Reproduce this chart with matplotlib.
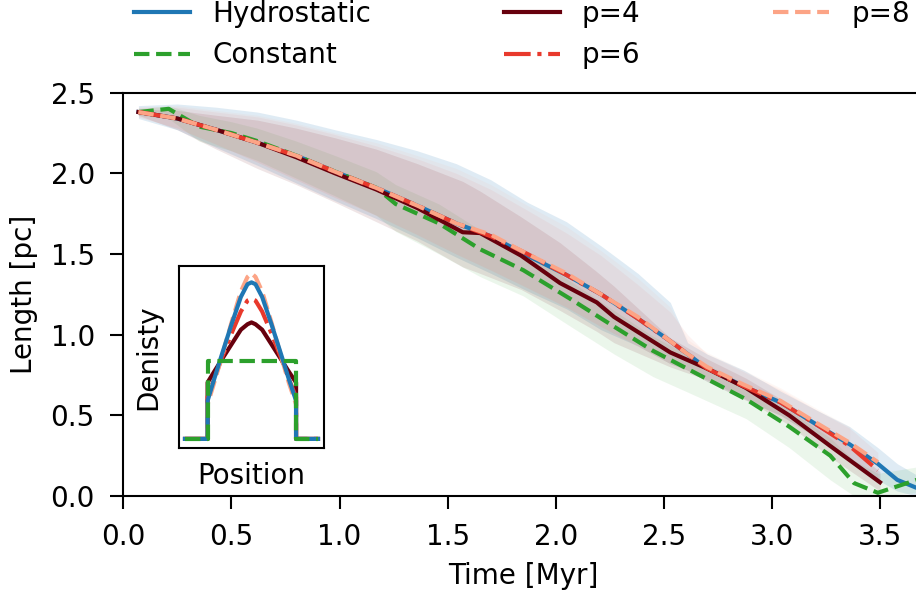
import matplotlib
matplotlib.use("Agg")
import matplotlib.pyplot as plt

# ---- main curves: filament length vs time ----
t_hyd = [0.07, 0.25, 0.43, 0.62, 0.80, 0.98, 1.17, 1.36, 1.54, 1.70, 1.87, 2.05, 2.21, 2.38, 2.53, 2.61,
         2.70, 2.87, 3.04, 3.21, 3.36, 3.49, 3.58, 3.67, 3.75]
L_hyd = [2.38, 2.34, 2.27, 2.19, 2.11, 2.01, 1.91, 1.80, 1.69, 1.61, 1.49, 1.37, 1.25, 1.10, 0.96, 0.88,
         0.79, 0.68, 0.58, 0.44, 0.32, 0.20, 0.10, 0.05, 0.04]
hi_hyd = [2.42, 2.43, 2.41, 2.38, 2.33, 2.27, 2.21, 2.14, 2.06, 1.96, 1.82, 1.70, 1.55, 1.38, 1.20, 0.95,
          0.88, 0.78, 0.65, 0.53, 0.43, 0.30, 0.20, 0.13, 0.10]
lo_hyd = [2.34, 2.27, 2.16, 2.05, 1.94, 1.83, 1.72, 1.60, 1.48, 1.38, 1.27, 1.16, 1.03, 0.93, 0.82, 0.78,
          0.71, 0.60, 0.50, 0.36, 0.22, 0.10, 0.03, 0.00, 0.00]

t_con = [0.07, 0.21, 0.35, 0.50, 0.62, 0.80, 0.98, 1.17, 1.26, 1.46, 1.65, 1.85, 2.07, 2.27, 2.45, 2.65,
         2.88, 3.08, 3.27, 3.38, 3.49, 3.67, 3.75]
L_con = [2.38, 2.40, 2.29, 2.25, 2.20, 2.11, 2.01, 1.91, 1.81, 1.69, 1.53, 1.40, 1.22, 1.05, 0.90, 0.76,
         0.60, 0.43, 0.25, 0.08, 0.02, 0.10, 0.12]
hi_con = [2.40, 2.42, 2.36, 2.32, 2.28, 2.20, 2.11, 2.01, 1.93, 1.81, 1.65, 1.52, 1.33, 1.15, 0.99, 0.85,
          0.69, 0.53, 0.36, 0.22, 0.14, 0.18, 0.20]
lo_con = [2.36, 2.34, 2.20, 2.14, 2.08, 1.97, 1.86, 1.74, 1.64, 1.50, 1.36, 1.24, 1.05, 0.88, 0.74, 0.62,
          0.48, 0.30, 0.10, 0.00, 0.00, 0.02, 0.04]

t_p4 = [0.07, 0.25, 0.43, 0.62, 0.80, 0.98, 1.17, 1.36, 1.57, 1.65, 1.84, 2.02, 2.19, 2.27, 2.53, 2.70,
        2.88, 3.08, 3.27, 3.50]
L_p4 = [2.38, 2.34, 2.27, 2.19, 2.10, 2.00, 1.90, 1.785, 1.635, 1.63, 1.49, 1.32, 1.20, 1.11, 0.89, 0.79,
        0.67, 0.50, 0.31, 0.085]
hi_p4 = [2.40, 2.39, 2.36, 2.33, 2.28, 2.22, 2.15, 2.06, 1.95, 1.89, 1.73, 1.57, 1.39, 1.30, 0.98, 0.85,
         0.73, 0.57, 0.40, 0.15]
lo_p4 = [2.36, 2.27, 2.15, 2.03, 1.93, 1.82, 1.70, 1.58, 1.42, 1.38, 1.28, 1.15, 1.02, 0.95, 0.80, 0.72,
         0.60, 0.44, 0.24, 0.03]

t_p6 = [0.07, 0.25, 0.43, 0.62, 0.80, 0.98, 1.17, 1.36, 1.54, 1.70, 1.87, 2.05, 2.21, 2.38, 2.53, 2.61,
        2.70, 2.87, 3.04, 3.21, 3.36, 3.49]
L_p6 = [2.38, 2.34, 2.27, 2.19, 2.11, 2.01, 1.91, 1.80, 1.69, 1.61, 1.50, 1.37, 1.25, 1.10, 0.96, 0.88,
        0.79, 0.68, 0.58, 0.44, 0.31, 0.16]
hi_p6 = [2.41, 2.41, 2.38, 2.35, 2.30, 2.24, 2.17, 2.09, 2.00, 1.90, 1.77, 1.63, 1.49, 1.31, 1.14, 1.00,
         0.88, 0.77, 0.66, 0.53, 0.42, 0.27]
lo_p6 = [2.35, 2.28, 2.18, 2.07, 1.96, 1.85, 1.74, 1.62, 1.50, 1.40, 1.29, 1.17, 1.05, 0.93, 0.82, 0.78,
         0.71, 0.60, 0.50, 0.36, 0.22, 0.08]

t_p8 = [0.07, 0.25, 0.43, 0.62, 0.80, 0.98, 1.17, 1.36, 1.54, 1.70, 1.87, 2.05, 2.21, 2.38, 2.53, 2.61,
        2.70, 2.87, 3.04, 3.21, 3.36, 3.49]
L_p8 = [2.38, 2.34, 2.27, 2.19, 2.11, 2.01, 1.91, 1.80, 1.69, 1.62, 1.50, 1.38, 1.25, 1.11, 0.96, 0.88,
        0.80, 0.69, 0.59, 0.45, 0.33, 0.21]
hi_p8 = [2.41, 2.42, 2.39, 2.36, 2.31, 2.25, 2.19, 2.11, 2.03, 1.93, 1.80, 1.67, 1.52, 1.35, 1.17, 0.97,
         0.89, 0.78, 0.67, 0.54, 0.43]
lo_p8 = [2.35, 2.28, 2.18, 2.07, 1.96, 1.85, 1.74, 1.62, 1.50, 1.40, 1.29, 1.17, 1.05, 0.93, 0.82, 0.78,
         0.71, 0.60, 0.50, 0.36, 0.22]

# ---- inset: initial density profiles ----
pos = [0.0, 0.17, 0.17, 0.22, 0.28, 0.35, 0.42, 0.47, 0.50, 0.53, 0.58, 0.65, 0.72, 0.78, 0.835, 0.835, 1.0]
rho_hyd = [0.05, 0.05, 0.26, 0.38, 0.52, 0.68, 0.83, 0.90, 0.91, 0.90, 0.83, 0.68, 0.52, 0.38, 0.26, 0.05, 0.05]
rho_p4 = [0.05, 0.05, 0.36, 0.42, 0.49, 0.57, 0.65, 0.68, 0.69, 0.68, 0.65, 0.57, 0.49, 0.42, 0.36, 0.05, 0.05]
rho_p6 = [0.05, 0.05, 0.28, 0.38, 0.50, 0.63, 0.75, 0.81, 0.82, 0.81, 0.75, 0.63, 0.50, 0.38, 0.28, 0.05, 0.05]
rho_p8 = [0.05, 0.05, 0.24, 0.36, 0.51, 0.69, 0.86, 0.94, 0.96, 0.94, 0.86, 0.69, 0.51, 0.36, 0.24, 0.05, 0.05]
rho_con = [0.05, 0.05, 0.48, 0.48, 0.48, 0.48, 0.48, 0.48, 0.48, 0.48, 0.48, 0.48, 0.48, 0.48, 0.48, 0.05, 0.05]

c_hyd = '#1f77b4'
c_con = '#2ca02c'
c_p4 = '#67000d'
c_p6 = '#e8392c'
c_p8 = '#fca486'

plt.rcParams['font.family'] = 'DejaVu Sans'
plt.rcParams['xtick.labelsize'] = 20
plt.rcParams['ytick.labelsize'] = 20
plt.rcParams['xtick.major.size'] = 9.5
plt.rcParams['ytick.major.size'] = 9.5
plt.rcParams['xtick.major.width'] = 1.5
plt.rcParams['ytick.major.width'] = 1.5
plt.rcParams['xtick.major.pad'] = 10
plt.rcParams['ytick.major.pad'] = 11

fig = plt.figure(figsize=(9.16, 5.97), dpi=100)
ax = fig.add_axes([123.3 / 916, 101 / 597, (3.70 * 216.2) / 916, 403.3 / 597])

lw = 3
ax.fill_between(t_hyd, lo_hyd, hi_hyd, color=c_hyd, alpha=0.14, lw=0)
ax.fill_between(t_con, lo_con, hi_con, color=c_con, alpha=0.09, lw=0)
ax.fill_between(t_p4, lo_p4, hi_p4, color=c_p4, alpha=0.10, lw=0)
ax.fill_between(t_p6, lo_p6, hi_p6, color=c_p6, alpha=0.06, lw=0)
ax.fill_between(t_p8[:-1], lo_p8, hi_p8, color=c_p8, alpha=0.08, lw=0)

ax.plot(t_hyd, L_hyd, color=c_hyd, lw=lw, label='Hydrostatic')
ax.plot(t_con, L_con, color=c_con, lw=lw, ls='--', label='Constant')
ax.plot(t_p4, L_p4, color=c_p4, lw=lw, label='p=4')
ax.plot(t_p6, L_p6, color=c_p6, lw=lw, ls='-.', label='p=6')
ax.plot(t_p8, L_p8, color=c_p8, lw=lw, ls='--', label='p=8')

ax.set_xlim(0, 3.70)
ax.set_ylim(0, 2.5)
ax.set_xticks([0.0, 0.5, 1.0, 1.5, 2.0, 2.5, 3.0, 3.5])
ax.set_yticks([0.0, 0.5, 1.0, 1.5, 2.0, 2.5])
for s in ax.spines.values():
    s.set_linewidth(1.5)
ax.spines['right'].set_visible(False)
ax.set_xlabel('Time [Myr]', fontsize=20, labelpad=8)
ax.set_ylabel('Length [pc]', fontsize=20, labelpad=9)

ax.legend(loc='lower left', bbox_to_anchor=(0, 1.03, 0.997, 0.2), mode='expand', borderaxespad=0,
          ncol=3, frameon=False, fontsize=20, handlelength=2.0)

# inset
ins = fig.add_axes([179 / 916, (597 - 448) / 597, 145 / 916, 182 / 597])
ins.plot(pos, rho_p4, color=c_p4, lw=3)
ins.plot(pos, rho_p6, color=c_p6, lw=3, ls='-.')
ins.plot(pos, rho_p8, color=c_p8, lw=3, ls='--')
ins.plot(pos, rho_hyd, color=c_hyd, lw=3)
ins.plot(pos, rho_con, color=c_con, lw=3, ls='--')
ins.set_xlim(-0.045, 1.045)
ins.set_ylim(0, 1)
ins.set_xticks([])
ins.set_yticks([])
for s in ins.spines.values():
    s.set_linewidth(1.5)
ins.set_xlabel('Position', fontsize=20, labelpad=10)
ins.set_ylabel('Denisty', fontsize=20, labelpad=12)

fig.savefig('out.png', dpi=100)
